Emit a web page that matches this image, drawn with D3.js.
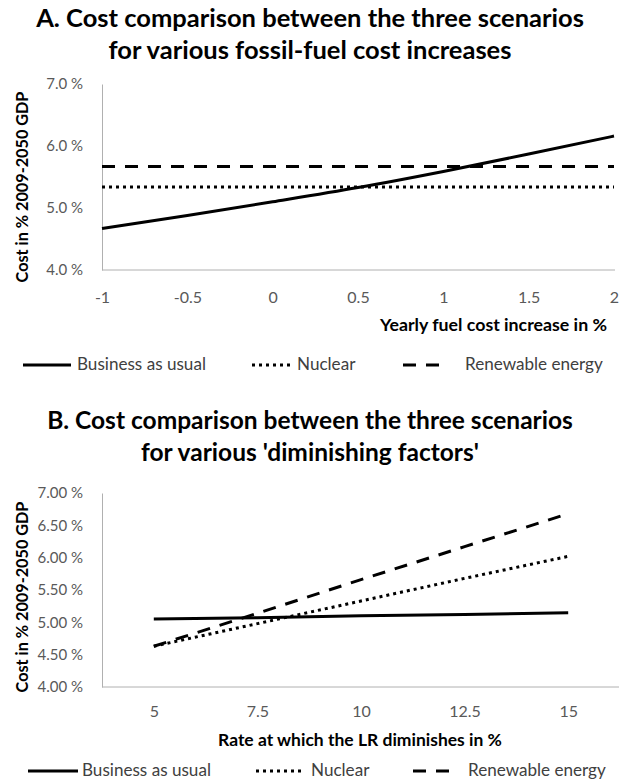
<!DOCTYPE html>
<html>
<head>
<meta charset="utf-8">
<script src="https://cdn.jsdelivr.net/npm/d3@7"></script>
<style>
  html, body { margin: 0; padding: 0; background: #fff; }
  svg { display: block; font-family: Lato, "Open Sans", sans-serif; }
</style>
</head>
<body>
<svg id="chart" width="619" height="783"></svg>
<script>
// ---- Panel A: yearly fossil-fuel cost increase (%) ----
const fuelIncrease = [-1, -0.5, 0, 0.5, 1, 1.5, 2];
const fuelBAU      = [4.67, 4.88, 5.10, 5.33, 5.59, 5.87, 6.16];
const fuelNuclear  = [5.34, 5.34, 5.34, 5.34, 5.34, 5.34, 5.34];
const fuelRenew    = [5.67, 5.67, 5.67, 5.67, 5.67, 5.67, 5.67];
const fuelYTicks   = [4, 5, 6, 7];

// ---- Panel B: rate at which the learning rate diminishes (%) ----
const lrRates      = ["5", "7.5", "10", "12.5", "15"];
const lrBAU        = [5.05, 5.07, 5.10, 5.12, 5.15];
const lrNuclear    = [4.63, 4.98, 5.33, 5.68, 6.02];
const lrRenew      = [4.63, 5.14, 5.66, 6.17, 6.68];
const lrYTicks     = [4, 4.5, 5, 5.5, 6, 6.5, 7];

const seriesNames  = ["Business as usual", "Nuclear", "Renewable energy"];

const svg = d3.select("#chart");
const AXIS = "#b0b0b0", TICK = "#595959", TEXT = "#404040";
const dashes = { solid: null, dot: "3,4", dash: "13,10" };
const styles = ["solid", "dot", "dash"];

// scale a text element's font size so that it spans the given width
function fit(sel, width) {
  const base = parseFloat(sel.style("font-size"));
  const w = sel.node().getComputedTextLength();
  const size = base * width / w;
  sel.style("font-size", size.toFixed(2) + "px");
  return size;
}

function title(lines, cx, width) {
  let size = 22;
  lines.forEach(([txt, y], i) => {
    const t = svg.append("text").attr("x", cx).attr("y", y)
      .attr("text-anchor", "middle").style("font-weight", "bold")
      .style("font-size", size + "px").attr("fill", "#000").text(txt);
    if (i === 0) size = fit(t, width);
  });
}

function yTitle(cx, cy) {
  const t = svg.append("text")
    .attr("transform", `translate(${cx},${cy}) rotate(-90)`)
    .attr("text-anchor", "middle").style("font-weight", "bold")
    .style("font-size", "14px").attr("fill", "#000")
    .text("Cost in % 2009-2050 GDP");
  fit(t, 191);
}

function legend(y, items) {
  let size = 15;
  items.forEach((it, i) => {
    svg.append("line").attr("x1", it.x1).attr("x2", it.x2)
      .attr("y1", y).attr("y2", y)
      .attr("stroke", "#000").attr("stroke-width", 3)
      .attr("stroke-dasharray", dashes[styles[i]]);
    const t = svg.append("text").attr("x", it.tx).attr("y", y + 5)
      .style("font-size", size + "px").attr("fill", TEXT).text(seriesNames[i]);
    if (i === 0) size = fit(t, 129);
  });
}

// ================= Panel A =================
title([["A. Cost comparison between the three scenarios", 27],
       ["for various fossil-fuel cost increases", 59]], 310, 548);

const xA = d3.scaleLinear().domain([-1, 2]).range([102, 614]);
const yA = d3.scaleLinear().domain([4, 7]).range([270, 84]);

const gA = svg.append("g");
gA.append("g").attr("transform", "translate(0,270)")
  .call(d3.axisBottom(xA).tickValues(fuelIncrease).tickSize(0).tickPadding(0)
        .tickFormat(d => String(d)))
  .call(g => g.select(".domain").attr("stroke", AXIS).attr("d", "M102,0H615"))
  .call(g => g.selectAll("text").attr("y", 33).attr("dy", 0)
        .style("font-size", "16px").style("font-family", "Lato").attr("fill", TICK));
gA.append("g").attr("transform", "translate(102,0)")
  .call(d3.axisLeft(yA).tickValues(fuelYTicks).tickSize(0).tickPadding(19)
        .tickFormat(d => d.toFixed(1) + " %"))
  .call(g => g.select(".domain").attr("stroke", AXIS))
  .call(g => g.selectAll("text").style("font-size", "15px")
        .style("font-family", "Lato").attr("fill", TICK));

const lineA = d3.line().x((d, i) => xA(fuelIncrease[i])).y(d => yA(d))
  .curve(d3.curveMonotoneX);
[fuelBAU, fuelNuclear, fuelRenew].forEach((s, i) => {
  gA.append("path").attr("d", lineA(s)).attr("fill", "none")
    .attr("stroke", "#000").attr("stroke-width", 3)
    .attr("stroke-dasharray", dashes[styles[i]]);
});

yTitle(28, 187);
fit(svg.append("text").attr("x", 607).attr("y", 331).attr("text-anchor", "end")
  .style("font-weight", "bold").style("font-size", "15px").attr("fill", "#000")
  .text("Yearly fuel cost increase in %"), 227);

legend(365, [
  { x1: 23, x2: 71, tx: 77 },
  { x1: 252, x2: 292, tx: 297 },
  { x1: 403, x2: 440, tx: 465 }
]);

// ================= Panel B =================
title([["B. Cost comparison between the three scenarios", 429],
       ["for various 'diminishing factors'", 461]], 310, 526);

const xB = d3.scalePoint().domain(lrRates).range([102, 620]).padding(0.5);
const yB = d3.scaleLinear().domain([4, 7]).range([687, 493]);

const gB = svg.append("g");
gB.append("g").attr("transform", "translate(0,687)")
  .call(d3.axisBottom(xB).tickSize(0).tickPadding(0))
  .call(g => g.select(".domain").attr("stroke", AXIS).attr("d", "M102,0H619"))
  .call(g => g.selectAll("text").attr("y", 30).attr("dy", 0)
        .style("font-size", "16px").style("font-family", "Lato").attr("fill", TICK));
gB.append("g").attr("transform", "translate(102,0)")
  .call(d3.axisLeft(yB).tickValues(lrYTicks).tickSize(0).tickPadding(19)
        .tickFormat(d => d.toFixed(2) + " %"))
  .call(g => g.select(".domain").attr("stroke", AXIS))
  .call(g => g.selectAll("text").style("font-size", "15px")
        .style("font-family", "Lato").attr("fill", TICK));

const lineB = d3.line().x((d, i) => xB(lrRates[i])).y(d => yB(d));
[lrBAU, lrNuclear, lrRenew].forEach((s, i) => {
  gB.append("path").attr("d", lineB(s)).attr("fill", "none")
    .attr("stroke", "#000").attr("stroke-width", 3)
    .attr("stroke-dasharray", dashes[styles[i]]);
});

yTitle(28, 597);
fit(svg.append("text").attr("x", 360).attr("y", 746).attr("text-anchor", "middle")
  .style("font-weight", "bold").style("font-size", "15px").attr("fill", "#000")
  .text("Rate at which the LR diminishes in %"), 284);

legend(771, [
  { x1: 28, x2: 78, tx: 82 },
  { x1: 256, x2: 302, tx: 311 },
  { x1: 413, x2: 450, tx: 468 }
]);
</script>
</body>
</html>
